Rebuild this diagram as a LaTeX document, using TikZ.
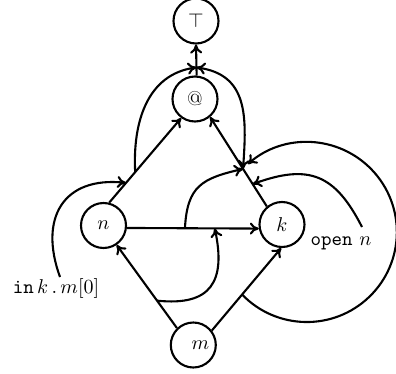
\documentclass[tikz,border=0pt]{standalone}
\usetikzlibrary{arrows.meta,calc}
\begin{document}
\begin{tikzpicture}[x=0.5pt,y=0.5pt, line width=1.05pt,
  vert/.style={circle,draw,minimum size=22.5pt,inner sep=0pt},
  arr/.style={-{To[length=4.5pt,width=6pt]}},
  darr/.style={{To[length=4.5pt,width=6pt]}-{To[length=4.5pt,width=6pt]}}]
\useasboundingbox (0,0) rectangle (396,-374);
\node[vert] (top) at (196,-21) {$\top$};
\node[vert] (at) at (195,-99) {@};
\node[vert] (n) at (103.5,-225.5) {$n$};
\node[vert] (k) at (282,-224.5) {$k$};
\node[vert] (m) at (193.3,-345) {\hspace{7pt}$m$};
\coordinate (D0) at (362,-227);
\coordinate (G0) at (60,-277);
% main edges
\draw[arr] (at.86) -- coordinate[pos=0.26] (pT) (top.south);
\draw[arr] (n.76) -- coordinate[pos=0.234] (pG) coordinate[pos=0.361] (pA) (at.234);
\draw[arr] (k.130) -- coordinate[pos=0.25] (pD) coordinate[pos=0.42] (pP) (at.310);
\draw[arr] (n.-6) -- coordinate[pos=0.44] (pC) coordinate[pos=0.666] (pF) (k.190);
\draw[arr] (m.134) -- coordinate[pos=0.33] (pF0) (n.304);
\draw[arr] (m.38) -- coordinate[pos=0.436] (pE) (k.268);
% edges onto edges
\draw[arr] (pA) to[out=93,in=188,looseness=1.05] (pT);
\draw[darr] (pT) to[out=-8,in=86,looseness=1.2] (pP);
\draw[arr] (pC) to[out=87,in=193,looseness=1.3] (pP);
\draw[arr] (D0) to[out=117,in=20,looseness=1.3] (pD);
\draw[arr] (pE) arc[start angle=224,end angle=491,radius=90];
\draw[arr] (pF0) to[out=-6,in=282,looseness=1.5] (pF);
\draw[arr] (G0) to[out=110,in=174,looseness=1.4] (pG);
% labels
\node (lopen) at (341,-243) {\texttt{open} $n$};
\node (lin) at (56,-288) {$\mathtt{in}\,k\,.\,m[0]$};
\end{tikzpicture}
\end{document}
